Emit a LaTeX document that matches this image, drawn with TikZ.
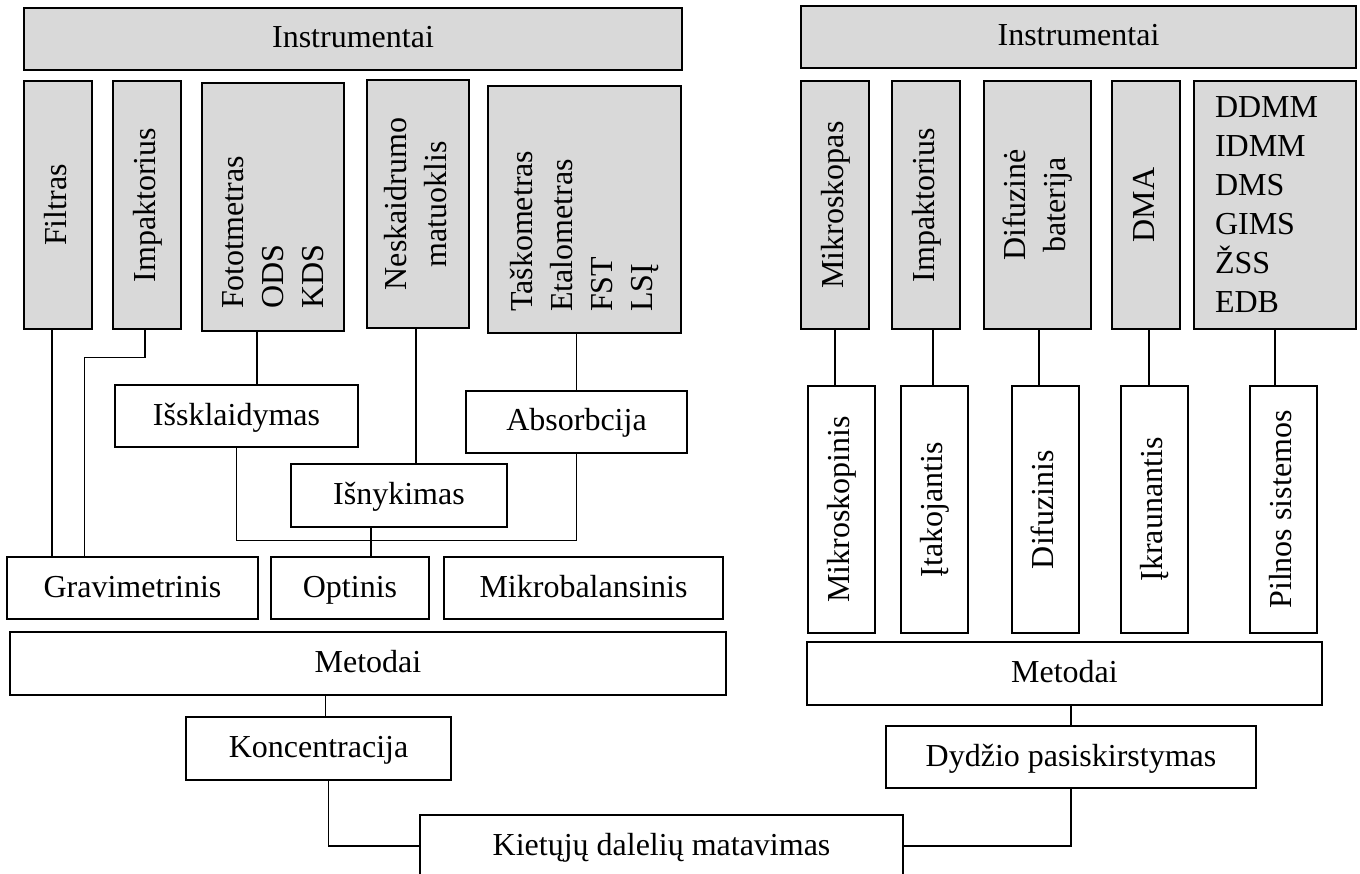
\documentclass[tikz,border=0pt]{standalone}
\usepackage{fontspec}
\setmainfont{Liberation Serif}
\usetikzlibrary{positioning,calc}
\definecolor{boxgray}{RGB}{217,217,217}
\newcommand{\vtext}[1]{\rotatebox{90}{\begin{tabular}{@{}c@{}}#1\end{tabular}}}
\newcommand{\vlist}[2]{\rotatebox{90}{\parbox{#1}{\raggedright #2}}}

\begin{document}
\begin{tikzpicture}[x=1pt,y=-1pt,font=\fontsize{32}{40}\selectfont,
    inst/.style={draw,line width=2.2pt,fill=boxgray,inner sep=0pt},
    meth/.style={draw,line width=2.2pt,fill=white,inner sep=0pt},
    flat/.style={text height=24pt,text depth=6pt},
    link/.style={line width=1.1pt}]
    \useasboundingbox (0,0) rectangle (1360,874);

    % left: instruments
    \node[inst,flat,minimum width=658,minimum height=62] (instL) at (353,39) {Instrumentai};
    \node[inst,minimum width=68,minimum height=248] (filtras) at (58,205) {\vtext{Filtras}};
    \node[inst,minimum width=68,minimum height=248] (impL) at (147,205) {\vtext{Impaktorius}};
    \node[inst,minimum width=142,minimum height=248] (foto) at (273,207) {\vlist{204pt}{Fototmetras\\ODS\\KDS}};
    \node[inst,minimum width=102,minimum height=248] (nesk) at (418,204) {\vtext{Neskaidrumo\\matuoklis}};
    \node[inst,minimum width=193,minimum height=247] (task) at (584.5,209.5) {\vlist{205pt}{Taškometras\\Etalometras\\FST\\LSĮ}};

    % left: principles and methods
    \node[meth,flat,minimum width=243,minimum height=62] (issk) at (236.5,416) {Išsklaidymas};
    \node[meth,flat,minimum width=216,minimum height=63] (isny) at (399,495.5) {Išnykimas};
    \node[meth,flat,minimum width=221,minimum height=62] (absorb) at (576.5,422) {Absorbcija};
    \node[meth,flat,minimum width=251,minimum height=62] (grav) at (132.5,588) {Gravimetrinis};
    \node[meth,flat,minimum width=158,minimum height=62] (opt) at (350,588) {Optinis};
    \node[meth,flat,minimum width=279,minimum height=62] (mikrob) at (583.5,588) {Mikrobalansinis};
    \node[meth,flat,minimum width=716,minimum height=63] (metL) at (368,663.5) {Metodai};
    \node[meth,flat,minimum width=265,minimum height=63] (konc) at (318.5,748.5) {Koncentracija};

    % right: instruments
    \node[inst,flat,minimum width=555,minimum height=62] (instR) at (1078.5,37) {Instrumentai};
    \node[inst,minimum width=68,minimum height=248] (mikro) at (835,205) {\vtext{Mikroskopas}};
    \node[inst,minimum width=68,minimum height=248] (impR) at (926,205) {\vtext{Impaktorius}};
    \node[inst,minimum width=107,minimum height=248] (dif) at (1037.5,205) {\vtext{Difuzinė\\baterija}};
    \node[inst,minimum width=68,minimum height=248] (dma) at (1146,205) {\vtext{DMA}};
    \node[inst,minimum width=162,minimum height=248,text width=120,inner xsep=21,align=left,
        font=\fontsize{32}{39}\selectfont] (ddmm) at (1275,205) {DDMM\\IDMM\\DMS\\GIMS\\ŽSS\\EDB};

    % right: methods
    \node[meth,minimum width=67,minimum height=247] (mikrop) at (841.5,509.5) {\vtext{Mikroskopinis}};
    \node[meth,minimum width=67,minimum height=247] (itak) at (934.5,509.5) {\vtext{Įtakojantis}};
    \node[meth,minimum width=67,minimum height=247] (difz) at (1045.5,509.5) {\vtext{Difuzinis}};
    \node[meth,minimum width=67,minimum height=247] (ikr) at (1154.5,509.5) {\vtext{Įkraunantis}};
    \node[meth,minimum width=67,minimum height=247] (pilnos) at (1283.5,509.5) {\vtext{Pilnos sistemos}};
    \node[meth,flat,minimum width=515,minimum height=63] (metR) at (1064.5,673.5) {Metodai};
    \node[meth,flat,minimum width=370,minimum height=62] (dyd) at (1071,757) {Dydžio pasiskirstymas};

    \node[meth,flat,minimum width=483,minimum height=62] (kiet) at (661.5,846) {Kietųjų dalelių matavimas};

    % connectors, left
    \draw[link] ([xshift=-6]filtras.south) -- ([xshift=-6]filtras.south |- grav.north);
    \draw[link] ([xshift=-2]impL.south) -- ++(0,27) -| ([xshift=79]grav.north west);
    \draw[link] ([xshift=-16]foto.south) -- ([xshift=-16]foto.south |- issk.north);
    \draw[link] ([xshift=-2]nesk.south) -- ([xshift=-2]nesk.south |- isny.north);
    \draw[link] (absorb.north) -- (absorb.north |- task.south);
    \draw[link] (issk.south) -- ++(0,92) -| (absorb.south);
    \draw[link] ([xshift=-28]isny.south) -- ([xshift=-28]isny.south |- opt.north);
    \draw[link] ([xshift=7]konc.north) -- ([xshift=7]konc.north |- metL.south);
    \draw[link] ([xshift=10]konc.south) |- (kiet.west);

    % connectors, right
    \draw[link] (mikro.south) -- (mikro.south |- mikrop.north);
    \draw[link] ([xshift=7]impR.south) -- ([xshift=7]impR.south |- itak.north);
    \draw[link] ([xshift=1.5]dif.south) -- ([xshift=1.5]dif.south |- difz.north);
    \draw[link] ([xshift=3]dma.south) -- ([xshift=3]dma.south |- ikr.north);
    \draw[link] (ddmm.south) -- (ddmm.south |- pilnos.north);
    \draw[link] (dyd.north) -- (dyd.north |- metR.south);
    \draw[link] (dyd.south) |- (kiet.east);
\end{tikzpicture}
\end{document}
